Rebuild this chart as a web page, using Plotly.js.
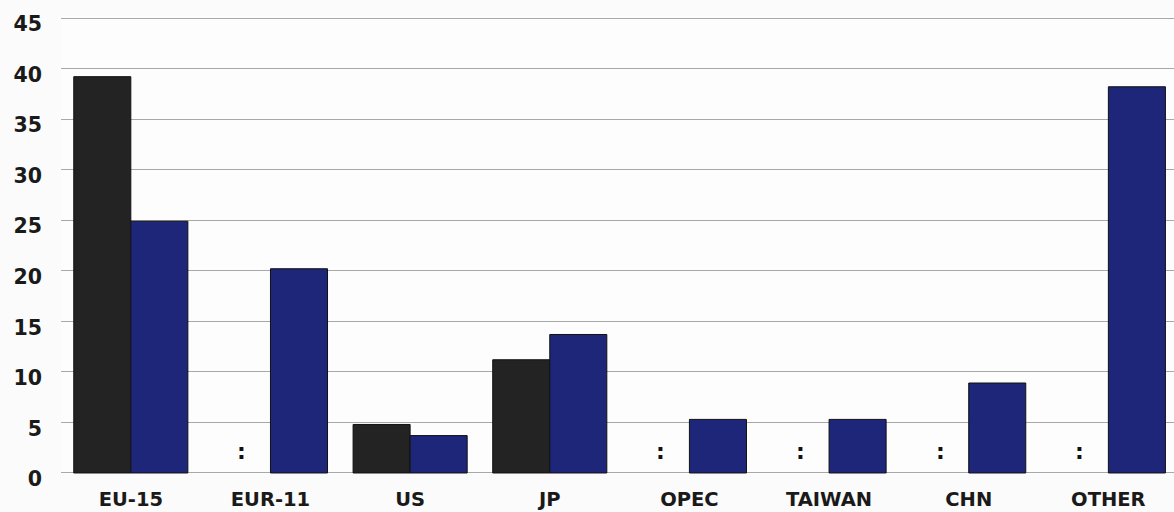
<!DOCTYPE html>
<html>
<head>
<meta charset="utf-8">
<script src="https://cdn.plot.ly/plotly-3.0.1.min.js"></script>
<style>html,body{margin:0;padding:0;background:#fbfbfb;}#chart{width:1174px;height:512px;}</style>
</head>
<body>
<div id="chart"></div>
<script>
const categories = ["EU-15", "EUR-11", "US", "JP", "OPEC", "TAIWAN", "CHN", "OTHER"];
const seriesBlack = [39.2, null, 4.8, 11.2, null, null, null, null];
const seriesBlue = [24.9, 20.2, 3.7, 13.7, 5.3, 5.3, 8.9, 38.2];
const missingMark = ":";
const yTickVals = [0, 5, 10, 15, 20, 25, 30, 35, 40, 45];

const traces = [
  {type: "bar", x: categories, y: seriesBlack, marker: {color: "#232323", line: {color: "#111", width: 1}}, hoverinfo: "x+y"},
  {type: "bar", x: categories, y: seriesBlue, marker: {color: "#1d2679", line: {color: "#111", width: 1}}, hoverinfo: "x+y"}
];

const annotations = [];
categories.forEach((c, i) => {
  if (seriesBlack[i] === null) {
    annotations.push({x: c, y: 2.1, xref: "x", yref: "y", text: missingMark, showarrow: false, xshift: -28.5,
      font: {family: "DejaVu Sans", size: 22, color: "#111", weight: "bold"}, yanchor: "middle"});
  }
});

const layout = {
  width: 1174, height: 512,
  margin: {l: 61, r: 0, t: 16, b: 38},
  paper_bgcolor: "#fbfbfb", plot_bgcolor: "#fdfdfd",
  barmode: "group", bargap: 0.183, bargroupgap: 0,
  showlegend: false,
  xaxis: {range: [-0.5, 7.47], showgrid: false, zeroline: false, showline: false, ticks: "",
    tickfont: {family: "DejaVu Sans", size: 19.5, color: "#1a1a1a", weight: "bold"}, ticklabelstandoff: 11},
  yaxis: {range: [-0.1, 45.2], tickvals: yTickVals, showgrid: true, gridcolor: "#a8a8a8", gridwidth: 1,
    zeroline: true, zerolinecolor: "#a8a8a8", zerolinewidth: 1, showline: false, ticks: "",
    tickfont: {family: "DejaVu Sans", size: 20.5, color: "#1a1a1a", weight: "bold"}, ticklabelstandoff: 18, ticklabelshift: 6},
  annotations: annotations
};

Plotly.newPlot("chart", traces, layout, {displayModeBar: false, staticPlot: true});
</script>
</body>
</html>
